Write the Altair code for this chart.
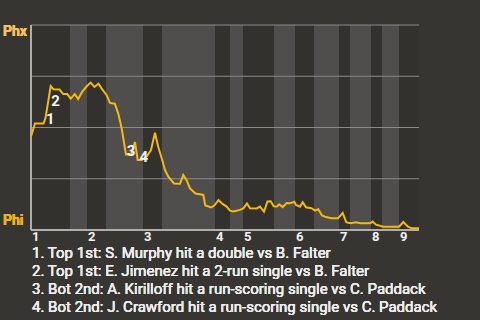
import altair as alt
import pandas as pd

# Win-probability line (x = play position, y = % toward Phx)
play_x = [0, 4, 12.5, 14.5, 19.7, 22.5, 28.5, 32.2, 36.3, 39.7, 43.8, 47.2, 51, 55.5, 59.7,
          63.5, 67.5, 70.5, 75.5, 79, 83.8, 87.2, 90.5, 95, 100, 104, 106.7, 110.7, 115.7,
          120, 124, 127, 130.7, 134, 137.3, 143, 149, 152.3, 155.7, 159, 164.5, 172.3,
          174.3, 180.3, 183.7, 187.5, 191.5, 195.7, 199, 202.3, 209, 212.3, 216, 219,
          225.7, 229, 233, 236.5, 239.7, 242.7, 246, 248.3, 251.7, 255.7, 259, 263.3, 265,
          269, 271.7, 275, 280.5, 284, 287.3, 291, 295, 300.5, 307, 311.7, 315.2, 319.5,
          325, 329.5, 339, 341.5, 345, 352.3, 368, 372.3, 377, 380.7, 388]
win_prob = [45.6, 52.0, 52.0, 54.6, 70.2, 68.6, 68.5, 66.3, 66.3, 64.1, 66.3, 63.9, 67.3,
            70.0, 71.9, 69.8, 71.4, 69.1, 65.9, 62.0, 61.6, 56.9, 50.0, 36.8, 36.8, 42.9,
            34.1, 34.1, 35.8, 39.0, 47.5, 41.0, 35.0, 29.3, 26.0, 22.7, 22.6, 26.8, 24.2,
            20.3, 17.8, 17.1, 12.0, 11.0, 12.2, 14.6, 12.7, 11.4, 9.4, 9.0, 9.8, 10.5, 12.9,
            10.6, 10.5, 11.4, 8.9, 13.9, 14.0, 11.6, 11.5, 12.5, 11.2, 13.2, 13.0, 13.8,
            12.2, 11.4, 13.6, 11.1, 10.6, 9.5, 10.1, 7.1, 6.3, 5.7, 5.7, 8.3, 3.8, 3.3, 3.8,
            3.3, 3.3, 4.1, 2.6, 1.6, 1.6, 3.9, 1.6, 0.8, 0.8]

# Half-inning bands
half_start = [0, 39, 56, 75, 112, 131, 184, 199, 212, 243, 264, 283, 308, 319, 340, 351, 368]
half_end = [39, 56, 75, 112, 131, 184, 199, 212, 243, 264, 283, 308, 319, 340, 351, 368, 388]
half_kind = ["top", "bot"] * 8 + ["top"]

innings = ["1", "2", "3", "4", "5", "6", "7", "8", "9"]
inning_start = [0, 56, 112, 184, 212, 264, 308, 340, 368]

grid_values = [25, 50, 75, 100]

marker_labels = ["1", "2", "3", "4"]
marker_x = [19.2, 24.5, 100, 112.7]
marker_y = [51.7, 60.5, 36.1, 33.3]

notes = [
    "1. Top 1st: S. Murphy hit a double vs B. Falter",
    "2. Top 1st: E. Jimenez hit a 2-run single vs B. Falter",
    "3. Bot 2nd: A. Kirilloff hit a run-scoring single vs C. Paddack",
    "4. Bot 2nd: J. Crawford hit a run-scoring single vs C. Paddack",
]

FONT = "Roboto"
W, H = 388, 205
xs = alt.Scale(domain=[0, 388], nice=False, zero=False)
ys = alt.Scale(domain=[0, 100], nice=False, zero=False)

line_df = pd.DataFrame({"x": play_x, "p": win_prob})
band_df = pd.DataFrame({"s": half_start, "e": half_end, "k": half_kind})
inn_df = pd.DataFrame({"inn": innings, "s": inning_start})
grid_df = pd.DataFrame({"v": grid_values})
mark_df = pd.DataFrame({"lab": marker_labels, "x": marker_x, "y": marker_y})

bands = alt.Chart(band_df).mark_rect().encode(
    x=alt.X("s:Q", scale=xs, axis=None),
    x2="e:Q",
    y=alt.value(0),
    y2=alt.value(H),
    color=alt.Color("k:N", scale=alt.Scale(domain=["top", "bot"], range=["#33312e", "#4f4e4c"]), legend=None),
)

grid = alt.Chart(grid_df).mark_rule(color="#8c8a87", strokeWidth=1).encode(
    y=alt.Y("v:Q", scale=ys, axis=None)
)

left_axis = alt.Chart(grid_df).mark_rule(color="#b8b6b3", strokeWidth=1).encode(
    x=alt.value(0), y=alt.value(0), y2=alt.value(H)
)
bottom_axis = alt.Chart(grid_df).mark_rule(color="#b8b6b3", strokeWidth=1).encode(
    y=alt.value(H), x=alt.value(0), x2=alt.value(W)
)

line = alt.Chart(line_df).mark_line(color="#f5b90f", strokeWidth=2).encode(
    x=alt.X("x:Q", scale=xs, axis=None),
    y=alt.Y("p:Q", scale=ys, axis=None),
)

markers = alt.Chart(mark_df).mark_text(
    font=FONT, fontSize=15, fontWeight="bold", color="#f2f2f2", align="center", baseline="alphabetic"
).encode(
    x=alt.X("x:Q", scale=xs, axis=None),
    y=alt.Y("y:Q", scale=ys, axis=None),
    text="lab:N",
)

inning_labels = alt.Chart(inn_df).mark_text(
    font=FONT, fontSize=13, fontWeight="bold", color="#f2f2f2", align="left", baseline="alphabetic", dx=1
).encode(
    x=alt.X("s:Q", scale=xs, axis=None),
    y=alt.value(H + 11),
    text="inn:N",
)

phx = alt.Chart(grid_df).mark_text(
    font=FONT, fontSize=14, fontWeight="bold", color="#f5c35a", align="left", baseline="alphabetic"
).encode(x=alt.value(-28), y=alt.value(11), text=alt.value("Phx"))

phi = alt.Chart(grid_df).mark_text(
    font=FONT, fontSize=14, fontWeight="bold", color="#f0b50a", align="left", baseline="alphabetic"
).encode(x=alt.value(-28), y=alt.value(H - 5), text=alt.value("Phi"))

notes_txt = alt.Chart(grid_df).mark_text(
    font=FONT, fontSize=15, color="#ececec", align="left", baseline="alphabetic",
    lineBreak="\n", lineHeight=18
).encode(x=alt.value(1), y=alt.value(H + 28), text=alt.value("\n".join(notes)))

chart = alt.layer(
    bands, grid, left_axis, bottom_axis, line, markers, inning_labels, phx, phi, notes_txt
).properties(
    width=W, height=H,
    autosize=alt.AutoSizeParams(type="none"),
    padding={"left": 31, "top": 25, "right": 61, "bottom": 90},
).configure(background="#373531").configure_view(stroke=None)

chart.save("out.html", embed_options={"renderer": "svg", "actions": False})
